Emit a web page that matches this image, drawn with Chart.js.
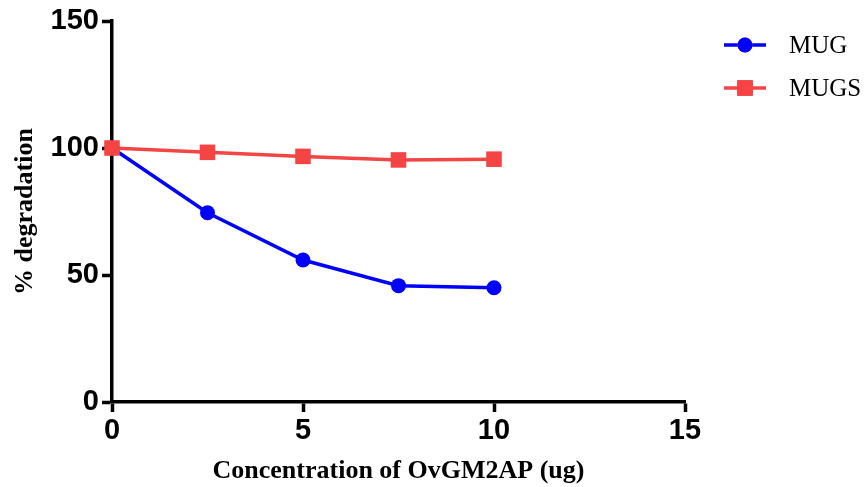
<!DOCTYPE html>
<html>
<head>
<meta charset="utf-8">
<script src="https://cdn.jsdelivr.net/npm/chart.js@4"></script>
<style>
  html, body { margin: 0; padding: 0; background: #fff; }
  #wrap { width: 864px; height: 487px; }
</style>
</head>
<body>
<div id="wrap"><canvas id="c" width="864" height="487"></canvas></div>
<script>
const concentrations = [0, 2.5, 5, 7.5, 10];
const mugValues = [100, 74.5, 55.9, 45.8, 45.0];
const mugsValues = [100, 98.3, 96.7, 95.3, 95.6];
const xTicks = [0, 5, 10, 15];
const yTicks = [0, 50, 100, 150];
const seriesNames = ['MUG', 'MUGS'];
const xTitle = 'Concentration of OvGM2AP (ug)';
const yTitle = '% degradation';

const toPoints = (xs, ys) => xs.map((x, i) => ({ x: x, y: ys[i] }));

const tickFont = { family: "'Liberation Sans Narrow', 'Arial Narrow', 'Liberation Sans', Arial, sans-serif", size: 29, weight: 'bold', lineHeight: 1 };
const titleFont = { family: "'Liberation Serif', 'Times New Roman', serif", size: 26, weight: 'bold', lineHeight: 1 };

const legendPlugin = {
  id: 'sideLegend',
  afterDraw(chart) {
    const ctx = chart.ctx;
    const order = [0, 1];
    const rows = [45, 88];
    order.forEach((di, r) => {
      const ds = chart.data.datasets[di];
      const y = rows[r];
      ctx.save();
      ctx.strokeStyle = ds.borderColor;
      ctx.lineWidth = 3.5;
      ctx.beginPath();
      ctx.moveTo(724, y);
      ctx.lineTo(766, y);
      ctx.stroke();
      Chart.helpers.drawPoint(ctx, {
        pointStyle: ds.pointStyle,
        radius: ds.pointRadius,
        borderWidth: 0,
        rotation: 0
      }, 745, y);
      ctx.fillStyle = ds.pointBackgroundColor;
      ctx.fill();
      ctx.fillStyle = '#000';
      ctx.font = "25px 'Liberation Serif', 'Times New Roman', serif";
      ctx.textAlign = 'left';
      ctx.textBaseline = 'middle';
      ctx.fillText(ds.label, 789, y + 1);
      ctx.restore();
    });
  }
};

new Chart(document.getElementById('c'), {
  type: 'line',
  data: {
    datasets: [
      {
        label: seriesNames[0],
        data: toPoints(concentrations, mugValues),
        borderColor: '#0000FF',
        backgroundColor: '#0000FF',
        pointBackgroundColor: '#0000FF',
        pointBorderWidth: 0,
        borderWidth: 3.5,
        pointStyle: 'circle',
        pointRadius: 7.5,
        pointHoverRadius: 7.5,
        order: 1,
        clip: false
      },
      {
        label: seriesNames[1],
        data: toPoints(concentrations, mugsValues),
        borderColor: '#F44444',
        backgroundColor: '#F44444',
        pointBackgroundColor: '#F44444',
        pointBorderWidth: 0,
        borderWidth: 3.5,
        pointStyle: 'rect',
        pointRadius: 11,
        pointHoverRadius: 11,
        order: 0,
        clip: false
      }
    ]
  },
  options: {
    responsive: false,
    animation: false,
    events: [],
    layout: { padding: { top: 21, right: 179, left: 0, bottom: 0 } },
    plugins: { legend: { display: false }, tooltip: { enabled: false } },
    scales: {
      x: {
        type: 'linear',
        min: xTicks[0],
        max: xTicks[xTicks.length - 1],
        afterBuildTicks: (s) => { s.ticks = xTicks.map(v => ({ value: v })); },
        afterFit: (s) => { s.height = 85; },
        border: { display: true, color: '#000', width: 3.5 },
        grid: { display: true, drawOnChartArea: false, drawTicks: true, tickLength: 10, tickWidth: 3.5, tickColor: '#000' },
        ticks: { color: '#000', font: tickFont, padding: 4, maxRotation: 0 },
        title: { display: true, text: xTitle, color: '#000', font: titleFont, padding: { top: 0, bottom: 3 } }
      },
      y: {
        type: 'linear',
        min: yTicks[0],
        max: yTicks[yTicks.length - 1],
        afterBuildTicks: (s) => { s.ticks = yTicks.map(v => ({ value: v })); },
        afterFit: (s) => { s.width = 112; },
        border: { display: true, color: '#000', width: 3.5 },
        grid: { display: true, drawOnChartArea: false, drawTicks: true, tickLength: 10, tickWidth: 3.5, tickColor: '#000' },
        ticks: { color: '#000', font: tickFont, padding: 3 },
        title: { display: true, text: yTitle, color: '#000', font: titleFont, padding: { top: 12, bottom: 0 } }
      }
    }
  },
  plugins: [legendPlugin]
});
</script>
</body>
</html>
